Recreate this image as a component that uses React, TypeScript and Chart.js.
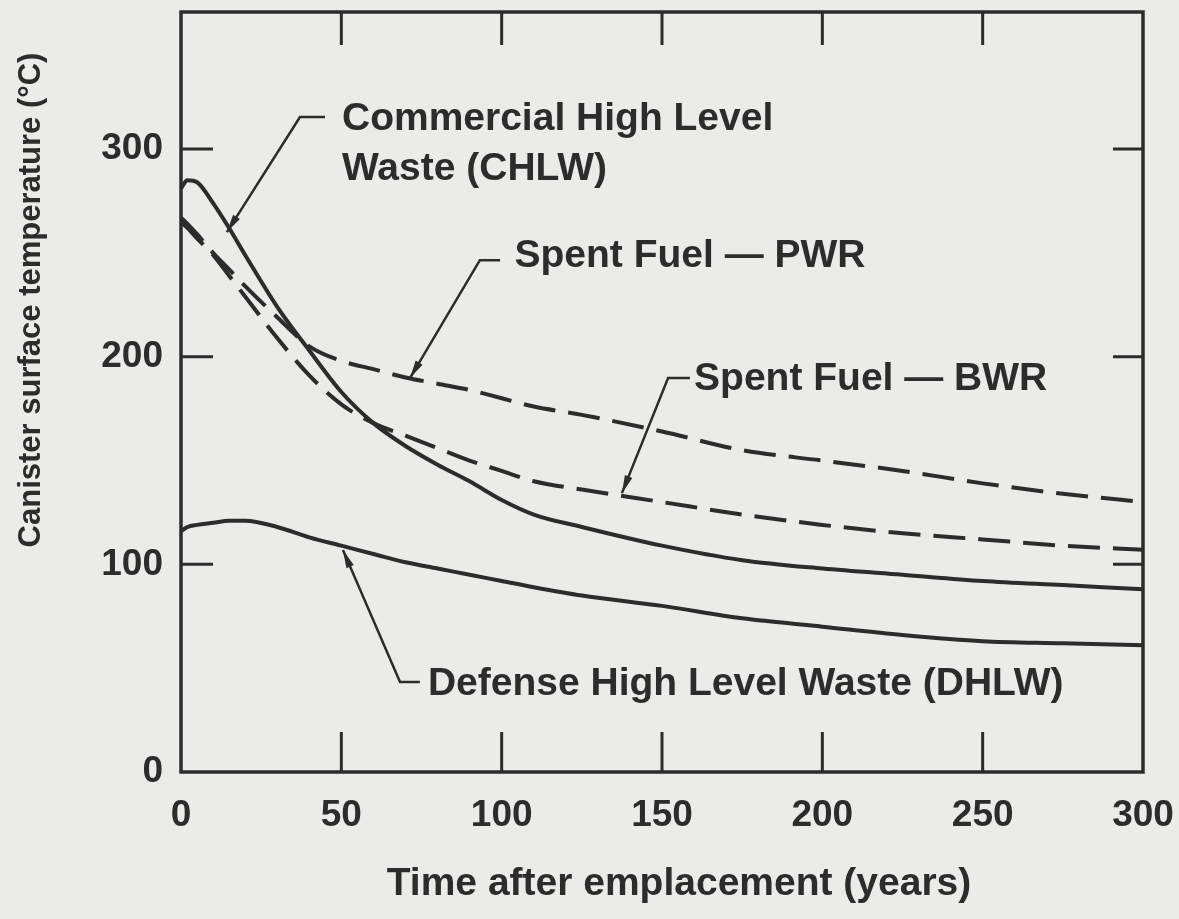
import React, { useEffect, useRef } from "react";
import { Chart, registerables } from "chart.js";

Chart.register(...registerables);

// ---- data ----
const years = [0, 2, 5, 10, 15, 20, 30, 40, 50, 60, 70, 80, 90, 100, 110, 125, 150, 175, 200, 225, 250, 275, 300];
const chlw = [281, 285, 284, 274, 262, 249, 224, 203, 183, 168, 157, 148, 140, 131, 124, 118, 109, 102, 98, 95, 92, 90, 88];
const pwr = [267, 264, 259, 250, 242, 234, 219, 205, 198, 194, 190, 187, 184, 180, 176, 172, 164, 155, 150, 145, 139, 134, 130];
const bwr = [265, 262, 257, 249, 239, 229, 209, 191, 177, 168, 162, 156, 150, 145, 140, 136, 130, 124, 119, 115, 112, 109, 107];
const dhlw = [116, 118, 119, 120, 121, 121, 118, 113, 109, 105, 101, 98, 95, 92, 89, 85, 80, 74, 70, 66, 63, 62, 61];

const xTicks = [0, 50, 100, 150, 200, 250, 300];
const yTicks = [0, 100, 200, 300];
const xTitle = "Time after emplacement (years)";
const yTitle = "Canister surface temperature (°C)";
const chlwLabel = ["Commercial High Level", "Waste (CHLW)"];
const pwrLabel = ["Spent Fuel — PWR"];
const bwrLabel = ["Spent Fuel — BWR"];
const dhlwLabel = ["Defense High Level Waste (DHLW)"];

// ---- styles ----
const BG = "#ebebe9";
const INK = "#2c2c2c";
const FONT = '"Liberation Sans", Arial, Helvetica, sans-serif';

// annotation placement in data coordinates (t = years, v = degC)
const annotations = [
  { lines: chlwLabel, text: [50.2, 309], gap: 50, leader: [[44.9, 315.4], [37.1, 315.4], [14.3, 260]] },
  { lines: pwrLabel, text: [104, 243], gap: 0, leader: [[99.5, 246.5], [93.2, 246.5], [71.4, 189.7]] },
  { lines: bwrLabel, text: [160, 184], gap: 0, leader: [[158.7, 189.7], [151.9, 189.7], [137.5, 134.3]] },
  { lines: dhlwLabel, text: [77, 37], gap: 0, leader: [[74.5, 43.3], [68.3, 43.3], [50.5, 106.9]] },
];

const decorPlugin = {
  id: "decor",
  beforeDraw(chart: any) {
    const { ctx, width, height } = chart;
    ctx.save();
    ctx.fillStyle = BG;
    ctx.fillRect(0, 0, width, height);
    ctx.restore();
  },
  afterDatasetsDraw(chart: any) {
    const { ctx, chartArea: a, scales } = chart;
    const x = scales.x;
    const y = scales.y;
    ctx.save();
    ctx.strokeStyle = INK;
    ctx.fillStyle = INK;
    ctx.lineCap = "butt";
    // frame
    ctx.lineWidth = 3.5;
    ctx.strokeRect(a.left, a.top, a.right - a.left, a.bottom - a.top);
    // inward ticks
    ctx.lineWidth = 3;
    xTicks.forEach((v) => {
      if (v === xTicks[0] || v === xTicks[xTicks.length - 1]) return;
      const px = x.getPixelForValue(v);
      ctx.beginPath();
      ctx.moveTo(px, a.bottom);
      ctx.lineTo(px, a.bottom - 40);
      ctx.moveTo(px, a.top);
      ctx.lineTo(px, a.top + 33);
      ctx.stroke();
    });
    yTicks.forEach((v) => {
      if (v === 0) return;
      const py = y.getPixelForValue(v);
      ctx.beginPath();
      ctx.moveTo(a.left, py);
      ctx.lineTo(a.left + 32, py);
      ctx.moveTo(a.right, py);
      ctx.lineTo(a.right - 30, py);
      ctx.stroke();
    });
    // annotations
    ctx.font = `bold 39px ${FONT}`;
    ctx.textAlign = "left";
    ctx.textBaseline = "alphabetic";
    annotations.forEach((an) => {
      const tx = x.getPixelForValue(an.text[0]);
      const ty = y.getPixelForValue(an.text[1]);
      an.lines.forEach((s, i) => ctx.fillText(s, tx, ty + i * an.gap));
      const pts = an.leader.map((p) => [x.getPixelForValue(p[0]), y.getPixelForValue(p[1])]);
      ctx.lineWidth = 2.5;
      ctx.beginPath();
      ctx.moveTo(pts[0][0], pts[0][1]);
      for (let i = 1; i < pts.length; i++) ctx.lineTo(pts[i][0], pts[i][1]);
      ctx.stroke();
      // arrowhead
      const [ex, ey] = pts[pts.length - 1];
      const [sx, sy] = pts[pts.length - 2];
      const ang = Math.atan2(ey - sy, ex - sx);
      const L = 18, W = 4;
      ctx.beginPath();
      ctx.moveTo(ex, ey);
      ctx.lineTo(ex - L * Math.cos(ang) + W * Math.sin(ang), ey - L * Math.sin(ang) - W * Math.cos(ang));
      ctx.lineTo(ex - L * Math.cos(ang) - W * Math.sin(ang), ey - L * Math.sin(ang) + W * Math.cos(ang));
      ctx.closePath();
      ctx.fill();
    });
    // axis titles
    ctx.font = `bold 39px ${FONT}`;
    ctx.textAlign = "center";
    ctx.textBaseline = "middle";
    ctx.fillText(xTitle, 679, 884);
    ctx.save();
    ctx.translate(31, 300);
    ctx.rotate(-Math.PI / 2);
    ctx.font = `bold 31px ${FONT}`;
    ctx.fillText(yTitle, 0, 0);
    ctx.restore();
    ctx.restore();
  },
};

export default function App() {
  const ref = useRef<HTMLCanvasElement | null>(null);
  useEffect(() => {
    if (!ref.current) return;
    const mk = (data: number[]) => years.map((t, i) => ({ x: t, y: data[i] }));
    const base = {
      borderColor: INK,
      borderWidth: 4,
      pointRadius: 0,
      fill: false,
      cubicInterpolationMode: "monotone" as const,
    };
    const chart = new Chart(ref.current, {
      type: "line",
      data: {
        datasets: [
          { ...base, label: chlwLabel.join(" "), data: mk(chlw) },
          { ...base, label: pwrLabel[0], data: mk(pwr), borderDash: [32, 13] },
          { ...base, label: bwrLabel[0], data: mk(bwr), borderDash: [32, 13] },
          { ...base, label: dhlwLabel[0], data: mk(dhlw) },
        ],
      },
      options: {
        animation: false,
        responsive: false,
        devicePixelRatio: 1,
        layout: { padding: { top: 12, right: 36, left: 0, bottom: 0 } },
        plugins: { legend: { display: false }, tooltip: { enabled: false } },
        scales: {
          x: {
            type: "linear",
            min: 0,
            max: 300,
            grid: { display: false, drawTicks: false },
            border: { display: false },
            ticks: { color: INK, font: { family: FONT, size: 37, weight: "bold" }, padding: 22, maxRotation: 0 },
            afterBuildTicks: (s: any) => { s.ticks = xTicks.map((v) => ({ value: v })); },
            afterFit: (s: any) => { s.height = 147; s.paddingLeft = 0; s.paddingRight = 0; },
          },
          y: {
            type: "linear",
            min: 0,
            max: 366,
            grid: { display: false, drawTicks: false },
            border: { display: false },
            ticks: { color: INK, font: { family: FONT, size: 37, weight: "bold" }, padding: 18 },
            afterBuildTicks: (s: any) => { s.ticks = yTicks.map((v) => ({ value: v })); },
            afterFit: (s: any) => { s.width = 181; s.paddingTop = 0; s.paddingBottom = 0; },
          },
        },
      },
      plugins: [decorPlugin],
    } as any);
    return () => chart.destroy();
  }, []);
  return (
    <div style={{ position: "fixed", left: 0, top: 0, width: 1179, height: 919, background: BG }}>
      <canvas ref={ref} width={1179} height={919} style={{ display: "block", width: 1179, height: 919 }} />
    </div>
  );
}
